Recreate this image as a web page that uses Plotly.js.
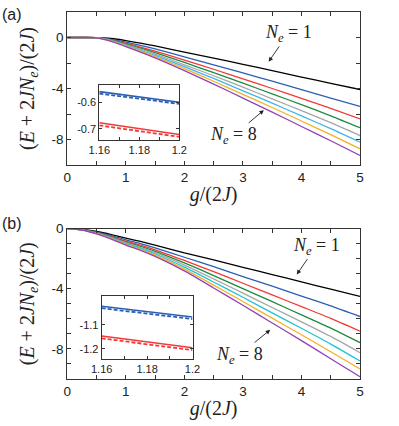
<!DOCTYPE html>
<html>
<head>
<meta charset="utf-8">
<script src="https://cdn.plot.ly/plotly-3.0.1.min.js"></script>
<style>html,body{margin:0;padding:0;background:#fff;}#chart{width:399px;height:426px;}</style>
</head>
<body>
<div id="chart"></div>
<script>
// ---------- data ----------
const g = [0, 0.25, 0.5, 0.75, 1, 1.25, 1.5, 2, 2.5, 3, 3.5, 4, 4.5, 5];
const seriesNames = ['N_e=1','N_e=2','N_e=3','N_e=4','N_e=5','N_e=6','N_e=7','N_e=8'];
const colorsA = ['#000000','#2b5fb4','#f23a3a','#1e8a3f','#a6a6a6','#3cb6ee','#f2b224','#9442b5'];
const colorsB = ['#000000','#2b5fb4','#f23a3a','#1e8a3f','#a6a6a6','#1fc3d6','#f2b224','#9442b5'];

// panel (a)
const a1 = [0, 0, -0.01, -0.08, -0.24, -0.44, -0.66, -1.15, -1.62, -2.1, -2.6, -3.1, -3.6, -4.08];
const a2 = [0, 0, -0.015, -0.14, -0.36, -0.62, -0.9, -1.52, -2.14, -2.78, -3.43, -4.09, -4.75, -5.41];
const a3 = [0, 0, -0.02, -0.18, -0.45, -0.75, -1.06, -1.77, -2.49, -3.24, -4.0, -4.77, -5.55, -6.38];
const a4 = [0, 0, -0.02, -0.2, -0.51, -0.84, -1.19, -1.96, -2.76, -3.58, -4.42, -5.27, -6.14, -7.08];
const a5 = [0, 0, -0.02, -0.23, -0.57, -0.92, -1.3, -2.14, -3.0, -3.9, -4.81, -5.74, -6.68, -7.69];
const a6 = [0, 0, -0.025, -0.25, -0.62, -1.0, -1.4, -2.29, -3.21, -4.18, -5.15, -6.15, -7.15, -8.21];
const a7 = [0, 0, -0.028, -0.28, -0.67, -1.07, -1.5, -2.44, -3.43, -4.46, -5.49, -6.55, -7.62, -8.73];
const a8 = [0, 0, -0.03, -0.3, -0.72, -1.15, -1.6, -2.6, -3.65, -4.75, -5.85, -6.98, -8.1, -9.25];

// panel (b)
const b1 = [0, -0.06, -0.2, -0.4, -0.64, -0.86, -1.1, -1.62, -2.08, -2.58, -3.06, -3.55, -4.03, -4.51];
const b2 = [0, -0.07, -0.24, -0.47, -0.75, -1.0, -1.28, -1.91, -2.53, -3.19, -3.83, -4.49, -5.14, -5.85];
const b3 = [0, -0.077, -0.267, -0.526, -0.833, -1.108, -1.415, -2.124, -2.865, -3.638, -4.412, -5.188, -5.97, -6.82];
const b4 = [0, -0.082, -0.29, -0.568, -0.898, -1.19, -1.52, -2.29, -3.127, -3.99, -4.863, -5.734, -6.617, -7.58];
const b5 = [0, -0.087, -0.309, -0.604, -0.953, -1.261, -1.61, -2.436, -3.352, -4.294, -5.25, -6.202, -7.172, -8.25];
const b6 = [0, -0.092, -0.326, -0.637, -1.003, -1.326, -1.693, -2.568, -3.557, -4.571, -5.604, -6.631, -7.68, -8.8];
const b7 = [0, -0.096, -0.344, -0.67, -1.054, -1.391, -1.775, -2.70, -3.763, -4.848, -5.958, -7.06, -8.19, -9.33];
const b8 = [0, -0.1, -0.36, -0.7, -1.1, -1.45, -1.85, -2.82, -3.95, -5.1, -6.28, -7.45, -8.65, -9.85];

// insets
const gIn = [1.16, 1.2];
const inA_blue = [-0.560, -0.600];
const inA_blueDash = [-0.567, -0.606];
const inA_red = [-0.677, -0.721];
const inA_redDash = [-0.687, -0.730];
const inB_blue = [-1.022, -1.067];
const inB_blueDash = [-1.030, -1.075];
const inB_red = [-1.146, -1.195];
const inB_redDash = [-1.156, -1.205];

// tick labels
const xTicks = [0, 1, 2, 3, 4, 5];
const xTickText = ['0', '1', '2', '3', '4', '5'];
const yTicksA = [-8, -4, 0];
const yTickTextA = ['-8', '-4', '0'];
const yTicksB = [-8, -4, 0];
const yTickTextB = ['-8', '-4', '0'];
const inXTicks = [1.16, 1.18, 1.2];
const inXText = ['1.16', '1.18', '1.2'];
const inATicks = [-0.7, -0.6];
const inAText = ['-0.7', '-0.6'];
const inBTicks = [-1.2, -1.1];
const inBText = ['-1.2', '-1.1'];

// ---------- build ----------
const A = [a1, a2, a3, a4, a5, a6, a7, a8];
const B = [b1, b2, b3, b4, b5, b6, b7, b8];
const traces = [];
A.forEach((ys, i) => traces.push({x: g, y: ys, xaxis: 'x', yaxis: 'y', mode: 'lines', name: seriesNames[i],
  line: {color: colorsA[i], width: 1.3, shape: 'spline', smoothing: 0.6}, showlegend: false, hoverinfo: 'skip'}));
B.forEach((ys, i) => traces.push({x: g, y: ys, xaxis: 'x2', yaxis: 'y2', mode: 'lines', name: seriesNames[i],
  line: {color: colorsB[i], width: 1.3, shape: 'spline', smoothing: 0.6}, showlegend: false, hoverinfo: 'skip'}));

function inset(xa, ya, ys, color, dash) {
  traces.push({x: gIn, y: ys, xaxis: xa, yaxis: ya, mode: 'lines', showlegend: false, hoverinfo: 'skip',
    line: {color: color, width: dash ? 1.8 : 1.6, dash: dash ? '4px,2px' : 'solid'}});
}
inset('x3', 'y3', inA_blue, colorsA[1], false);
inset('x3', 'y3', inA_blueDash, colorsA[1], true);
inset('x3', 'y3', inA_red, colorsA[2], false);
inset('x3', 'y3', inA_redDash, colorsA[2], true);
inset('x4', 'y4', inB_blue, colorsB[1], false);
inset('x4', 'y4', inB_blueDash, colorsB[1], true);
inset('x4', 'y4', inB_red, colorsB[2], false);
inset('x4', 'y4', inB_redDash, colorsB[2], true);

const tickFont = {family: 'Liberation Sans, Arial, sans-serif', size: 13.5, color: '#222'};
const smallFont = {family: 'Liberation Sans, Arial, sans-serif', size: 11, color: '#222'};
const titleFont = {family: 'Liberation Serif, Times New Roman, serif', size: 20, color: '#222'};
const annFont = {family: 'Liberation Serif, Times New Roman, serif', size: 18, color: '#222'};

function axisBase(extra) {
  return Object.assign({showgrid: false, zeroline: false, showline: true, linecolor: '#333', linewidth: 1,
    mirror: 'ticks', ticks: 'inside', ticklen: 4, tickcolor: '#333', tickmode: 'array',
    tickfont: tickFont, fixedrange: true}, extra);
}

const W = 399, H = 426;
const px = v => v / W, py = v => 1 - v / H;
const xDom = [px(67.3), px(360)];

const yTitle = '(<i>E</i> + 2<i>JN</i><sub><i>e</i></sub>)/(2<i>J</i>)';
const xTitle = '<i>g</i>/(2<i>J</i>)';
const minorX = {ticks: 'inside', dtick: 0.5, tick0: 0, ticklen: 4, tickcolor: '#333', showgrid: false};

function arrowNote(xr, yr, x, y, ax, ay, txt) {
  return {xref: xr, yref: yr, x: x, y: y, ax: ax, ay: ay, text: txt, showarrow: true,
    arrowhead: 2, arrowsize: 1, arrowwidth: 0.9, arrowcolor: '#222', standoff: 1, startstandoff: 1,
    font: annFont, borderpad: 0};
}

const layout = {
  width: W, height: H, margin: {l: 0, r: 0, t: 0, b: 0},
  paper_bgcolor: '#fff', plot_bgcolor: '#fff', showlegend: false,
  xaxis: axisBase({domain: xDom, anchor: 'y', range: [0, 5], tickvals: xTicks, ticktext: xTickText, minor: minorX,
    title: {text: xTitle, font: titleFont, standoff: 2}}),
  yaxis: axisBase({domain: [py(165), py(12)], anchor: 'x', range: [-10, 2], tickvals: yTicksA, ticktext: yTickTextA,
    minor: {ticks: 'inside', dtick: 2, tick0: 0, ticklen: 4, tickcolor: '#333', showgrid: false},
    title: {text: yTitle, font: titleFont, standoff: 11}}),
  xaxis2: axisBase({domain: xDom, anchor: 'y2', range: [0, 5], tickvals: xTicks, ticktext: xTickText, minor: minorX,
    title: {text: xTitle, font: titleFont, standoff: 2}}),
  yaxis2: axisBase({domain: [py(379), py(228.5)], anchor: 'x2', range: [-10, 0], tickvals: yTicksB, ticktext: yTickTextB,
    minor: {ticks: 'inside', dtick: 1, tick0: 0, ticklen: 4, tickcolor: '#333', showgrid: false},
    title: {text: yTitle, font: titleFont, standoff: 11}}),
  xaxis3: axisBase({domain: [px(99.3), px(179.3)], anchor: 'y3', range: [1.16, 1.2], tickvals: inXTicks, ticktext: inXText,
    minor: {ticks: 'inside', dtick: 0.01, tick0: 1.16, ticklen: 3, tickcolor: '#333', showgrid: false},
    tickfont: smallFont, ticklen: 3}),
  yaxis3: axisBase({domain: [py(139.5), py(85)], anchor: 'x3', range: [-0.74, -0.535], tickvals: inATicks, ticktext: inAText,
    tickfont: smallFont, ticklen: 3}),
  xaxis4: axisBase({domain: [px(101.7), px(192.5)], anchor: 'y4', range: [1.16, 1.2], tickvals: inXTicks, ticktext: inXText,
    minor: {ticks: 'inside', dtick: 0.01, tick0: 1.16, ticklen: 3, tickcolor: '#333', showgrid: false},
    tickfont: smallFont, ticklen: 3}),
  yaxis4: axisBase({domain: [py(358.5), py(296)], anchor: 'x4', range: [-1.24, -0.979], tickvals: inBTicks, ticktext: inBText,
    tickfont: smallFont, ticklen: 3}),
  annotations: [
    {xref: 'paper', yref: 'paper', x: 0, y: py(15), xanchor: 'left', yanchor: 'middle', text: '(a)', showarrow: false,
      font: {family: 'Liberation Sans, Arial, sans-serif', size: 16, color: '#222'}},
    {xref: 'paper', yref: 'paper', x: 0, y: py(223), xanchor: 'left', yanchor: 'middle', text: '(b)', showarrow: false,
      font: {family: 'Liberation Sans, Arial, sans-serif', size: 16, color: '#222'}},
    // panel (a)
    arrowNote('x', 'y', 3.43, -1.96, 20, -29, '<i>N<sub>e</sub></i> = 1'),
    arrowNote('x', 'y', 3.37, -5.65, -31, 26, '<i>N<sub>e</sub></i> = 8'),
    // panel (b)
    arrowNote('x2', 'y2', 3.91, -3.11, 20, -29, '<i>N<sub>e</sub></i> = 1'),
    arrowNote('x2', 'y2', 3.48, -6.69, -32, 26, '<i>N<sub>e</sub></i> = 8')
  ]
};

Plotly.newPlot('chart', traces, layout, {staticPlot: true, displayModeBar: false});
</script>
</body>
</html>
